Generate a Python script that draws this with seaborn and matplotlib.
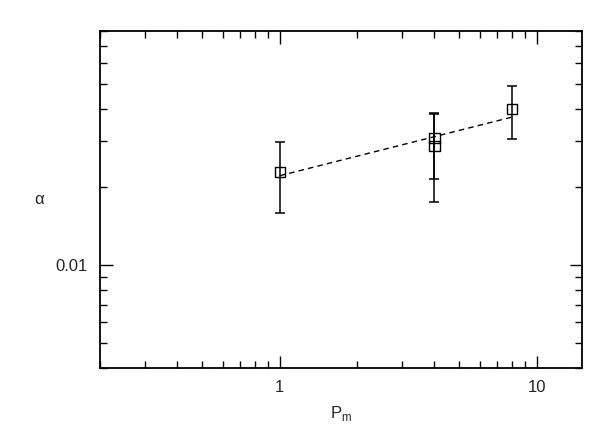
import matplotlib
matplotlib.use("Agg")
import matplotlib.pyplot as plt
import matplotlib.ticker as mticker
import numpy as np
import pandas as pd
import seaborn as sns

# Data
pm = [1.0, 4.0, 4.0, 8.0]
alpha = [0.0229, 0.0309, 0.0288, 0.0399]
alpha_hi = [0.0299, 0.0385, 0.0383, 0.0489]
alpha_lo = [0.0158, 0.0214, 0.01745, 0.0307]

fit_pm = [1.0, 8.0]
fit_alpha = [0.0221, 0.0372]

x_limits = [0.2, 15]
y_limits = [0.004, 0.08]

sns.set_style("ticks")
plt.rcParams['font.family'] = ['Liberation Sans', 'DejaVu Sans']

fig = plt.figure(figsize=(6.12, 4.32), dpi=100)
ax = fig.add_axes([100/612, 1 - 368/432, (582-100)/612, (368-31)/432])

df = pd.DataFrame({"pm": pm, "alpha": alpha})
fit_df = pd.DataFrame({"pm": fit_pm, "alpha": fit_alpha})

lo = np.array(alpha) - np.array(alpha_lo)
hi = np.array(alpha_hi) - np.array(alpha)
ax.errorbar(pm, alpha, yerr=[lo, hi], fmt='none', ecolor='black',
            elinewidth=1.1, capsize=3.5, capthick=1.1, zorder=2)

sns.lineplot(data=fit_df, x="pm", y="alpha", ax=ax, color='black',
             linestyle=(0, (4, 3)), linewidth=1.0, zorder=3)

sns.scatterplot(data=df, x="pm", y="alpha", ax=ax, marker='s', s=55,
                facecolor='none', edgecolor='black', linewidth=1.0, zorder=4)

ax.set_xscale('log')
ax.set_yscale('log')
ax.set_xlim(*x_limits)
ax.set_ylim(*y_limits)

ax.xaxis.set_major_locator(mticker.FixedLocator([1, 10]))
ax.xaxis.set_major_formatter(mticker.FixedFormatter(['1', '10']))
ax.xaxis.set_minor_locator(mticker.LogLocator(base=10, subs=np.arange(2, 10)))
ax.xaxis.set_minor_formatter(mticker.NullFormatter())
ax.yaxis.set_major_locator(mticker.FixedLocator([0.01]))
ax.yaxis.set_major_formatter(mticker.FixedFormatter(['0.01']))
ax.yaxis.set_minor_locator(mticker.LogLocator(base=10, subs=np.arange(2, 10)))
ax.yaxis.set_minor_formatter(mticker.NullFormatter())

ax.tick_params(which='both', direction='in', top=True, right=True,
               color='black', width=1.0)
ax.tick_params(which='major', length=9, labelsize=12, pad=9)
ax.tick_params(which='minor', length=5)

for s in ax.spines.values():
    s.set_visible(True)
    s.set_linewidth(1.3)
    s.set_color('black')

ax.set_xlabel(r'P$_{\mathregular{m}}$', fontsize=12, labelpad=6)
ax.set_ylabel('α', fontsize=12, rotation=0, labelpad=12, va='center')

fig.savefig("out.png", dpi=100)
